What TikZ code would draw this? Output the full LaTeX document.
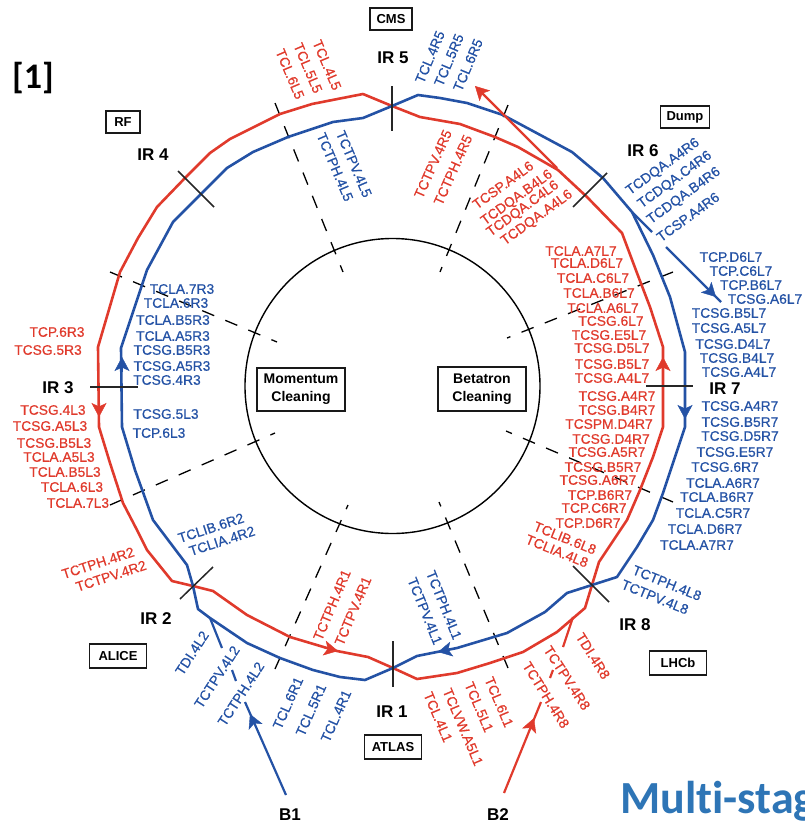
\documentclass[tikz,border=0pt]{standalone}
\usepackage{fontspec}
\setmainfont{Liberation Sans}
\newfontfamily\carlito[RawFeature=-liga]{Carlito}
\usetikzlibrary{arrows.meta}
\definecolor{lhcred}{RGB}{224,58,44}
\definecolor{lhcblue}{RGB}{36,82,165}
\definecolor{slideblue}{RGB}{46,117,182}
\newfontfamily\labelfont[FakeBold=0.6]{Liberation Sans}
\tikzset{
  redlab/.style={text=lhcred,font=\labelfont\fontsize{13.8}{13.8}\selectfont,inner sep=0pt},
  bluelab/.style={text=lhcblue,font=\labelfont\fontsize{13.8}{13.8}\selectfont,inner sep=0pt},
  irlab/.style={font=\bfseries\fontsize{17}{17}\selectfont,inner sep=0pt},
  expbox/.style={draw=black!90,line width=1.4pt,font=\bfseries\fontsize{13}{13}\selectfont,minimum height=22pt,inner sep=0pt,align=center},
  redbeam/.style={draw=lhcred,line width=2.6pt,line join=round},
  bluebeam/.style={draw=lhcblue,line width=2.6pt,line join=round},
  irtick/.style={draw=black!85,line width=1.5pt},
  spoke/.style={draw=black,line width=1.3pt,dash pattern=on 13pt off 12pt},
  redhead/.style={draw=lhcred,line width=0.4pt,-{Stealth[length=14pt,width=15pt,inset=3.5pt,fill=lhcred]}},
  bluehead/.style={draw=lhcblue,line width=0.4pt,-{Stealth[length=14pt,width=15pt,inset=3.5pt,fill=lhcblue]}},
}
\begin{document}
\begin{tikzpicture}[x=1pt,y=-1pt]
\useasboundingbox (0,0) rectangle (804,825);
% inner circle
\node[draw=black,line width=1.4pt,circle,minimum size=295pt,inner sep=0pt] (core) at (392.5,386) {};
% spokes
\coordinate (s1a) at (275,103); \coordinate (s1b) at (343,272);
\coordinate (s2a) at (508,105); \coordinate (s2b) at (440,272);
\coordinate (s3a) at (673,272); \coordinate (s3b) at (507,338);
\coordinate (s4a) at (673,502); \coordinate (s4b) at (506,431);
\coordinate (s5a) at (508,668); \coordinate (s5b) at (439,502);
\coordinate (s6a) at (275,669); \coordinate (s6b) at (348,505);
\coordinate (s7a) at (110,505); \coordinate (s7b) at (275,433);
\coordinate (s8a) at (110,272); \coordinate (s8b) at (277,342);
\foreach \n in {1,...,8} \draw[spoke] (s\n a) -- (s\n b);
% beams
\draw[redbeam] (392,106) -- (363,94) -- (312,104) -- (280,114) -- (230,139) -- (210,153) -- (185,178) -- (157,207) -- (138,238) -- (120,272) -- (98,347) -- (99,427) -- (110,463) -- (123,503) -- (137,530) -- (147,550) -- (172,581) -- (193,586) -- (213,591) -- (247,615) -- (290,637) -- (337,651) -- (368,657) -- (393,668) -- (417,679) -- (457,673) -- (490,663) -- (523,652) -- (557,632) -- (585,608) -- (592,585) -- (599,562) -- (627,520) -- (640,490) -- (653,457) -- (663,427) -- (663,347) -- (650,307) -- (637,273) -- (622,233) -- (587,197) -- (558,170) -- (518,147) -- (495,137) -- (460,124) -- (420,117) -- cycle;
\draw[bluebeam] (392,106) -- (418,95) -- (440,98) -- (467,103) -- (503,115) -- (572,152) -- (603,178) -- (632,212) -- (653,255) -- (670,297) -- (685,352) -- (685,427) -- (663,493) -- (653,520) -- (637,547) -- (617,577) -- (592,585) -- (567,593) -- (545,612) -- (507,633) -- (457,648) -- (417,656) -- (393,668) -- (365,680) -- (340,677) -- (313,670) -- (280,658) -- (247,643) -- (210,618) -- (198,609) -- (193,586) -- (187,565) -- (153,520) -- (135,470) -- (122,427) -- (121,348) -- (147,270) -- (173,222) -- (202,193) -- (227,168) -- (253,152) -- (288,137) -- (333,122) -- (363,118) -- cycle;
% injection and dump lines
\coordinate (b1s) at (286,795); \coordinate (b1e) at (245,702);
\coordinate (b2s) at (504,793); \coordinate (b2e) at (541,702);
\draw[bluebeam,line width=2.2pt] (b1s) -- (b1e);
\draw[bluebeam,line width=2.2pt] (232,670) -- (236,681);
\draw[bluebeam,line width=2.2pt] (210,618) -- (222,648);
\draw[redbeam,line width=2.2pt] (b2s) -- (b2e);
\draw[redbeam,line width=2.2pt] (550,678) -- (553,670);
\draw[redbeam,line width=2.2pt] (563,647) -- (573,617);
\draw[redbeam,line width=2.2pt] (557,168) -- (480,91);
\draw[bluebeam,line width=2.2pt] (632,212) -- (652,232);
\draw[bluebeam,line width=2.2pt] (666,247) -- (721,302);
% arrowheads
\draw[redhead] (487,98) -- (475,86);
\draw[bluehead] (704,285) -- (716,297);
\draw[redhead] (663,372) -- (663,357);
\draw[bluehead] (685,404) -- (685,419);
\draw[bluehead] (122,372) -- (122,357);
\draw[redhead] (99,402) -- (99,417);
\draw[redhead] (324,648) -- (338,651);
\draw[bluehead] (452,649) -- (438,652);
\draw[bluehead] (257,730) -- (250,714);
\draw[redhead] (528,734) -- (534,718);
% IR ticks
\draw[irtick] (392,86) -- (392,131);
\draw[irtick] (178,171) -- (214,207);
\draw[irtick] (607,173) -- (573,207);
\draw[irtick] (646,386) -- (693,386);
\draw[irtick] (90,387) -- (138,387);
\draw[irtick] (180,599) -- (213,567);
\draw[irtick] (393,641) -- (393,687);
\draw[irtick] (573,566) -- (609,602);
% IR labels
\foreach \x/\y/\t [count=\n] in {393/58/IR 5,153/155/IR 4,643/151/IR 6,725/389/IR 7,58/388/IR 3,156/619/IR 2,392/712/IR 1,635/625/IR 8,290/815/B1,498/815/B2}
  \node[irlab] (ir\n) at (\x,\y) {\t};
% experiment boxes
\node[expbox,minimum width=42pt] (cms) at (391,19) {CMS};
\node[expbox,minimum width=34pt] (rf) at (123,122) {RF};
\node[expbox,minimum width=49pt] (dump) at (685,117) {Dump};
\node[expbox,minimum width=57pt,minimum height=24pt] (lhcb) at (678,663) {LHCb};
\node[expbox,minimum width=57pt,minimum height=24pt] (alice) at (118,656) {ALICE};
\node[expbox,minimum width=57pt,minimum height=24pt] (atlas) at (393,747) {ATLAS};
\node[expbox,minimum width=88pt,minimum height=43pt,font=\bfseries\fontsize{14}{18}\selectfont] (mom) at (301,389.5) {Momentum\\Cleaning};
\node[expbox,minimum width=88pt,minimum height=44pt,font=\bfseries\fontsize{14}{18}\selectfont] (bet) at (482,389) {Betatron\\Cleaning};
% straight red labels
\foreach \x/\y/\t [count=\n] in {581/251/TCLA.A7L7,587/263/TCLA.D6L7,593/278/TCLA.C6L7,599/293/TCLA.B6L7,603/308/TCLA.A6L7,611/321/TCSG.6L7,609/335/TCSG.E5L7,612/348/TCSG.D5L7,612/364/TCSG.B5L7,612/378/TCSG.A4L7,617/396/TCSG.A4R7,617/410/TCSG.B4R7,609/424/TCSPM.D4R7,611/439/TCSG.D4R7,607/452/TCSG.A5R7,603/467/TCSG.B5R7,598/480/TCSG.A6R7,600/495/TCP.B6R7,594/508/TCP.C6R7,588/523/TCP.D6R7,57/332/TCP.6R3,48/350/TCSG.5R3,53/410/TCSG.4L3,50/426/TCSG.A5L3,54/443/TCSG.B5L3,59/457/TCLA.A5L3,65/472/TCLA.B5L3,72/487/TCLA.6L3,78/503/TCLA.7L3}
  \node[redlab] (rs\n) at (\x,\y) {\t};
% straight blue labels
\foreach \x/\y/\t [count=\n] in {731/257/TCP.D6L7,741/271/TCP.C6L7,751/285/TCP.B6L7,765/299/TCSG.A6L7,729/313/TCSG.B5L7,729/328/TCSG.A5L7,733/344/TCSG.D4L7,737/358/TCSG.B4L7,739/372/TCSG.A4L7,740/406/TCSG.A4R7,740/422/TCSG.B5R7,740/436/TCSG.D5R7,735/452/TCSG.E5R7,725/467/TCSG.6R7,723/483/TCLA.A6R7,717/497/TCLA.B6R7,713/513/TCLA.C5R7,705/529/TCLA.D6R7,697/545/TCLA.A7R7,182/289/TCLA.7R3,176/303/TCLA.6R3,173/320/TCLA.B5R3,173/336/TCLA.A5R3,172/350/TCSG.B5R3,172/366/TCSG.A5R3,167/380/TCSG.4R3,166/414/TCSG.5L3,159/433/TCP.6L3}
  \node[bluelab] (bs\n) at (\x,\y) {\t};
% rotated red labels
\foreach \x/\y/\r/\t [count=\n] in {327/65/-67/TCL.4L5,308/68/-67/TCL.5L5,290/74/-67/TCL.6L5,433/164/66/TCTPV.4R5,453/170/66/TCTPH.4R5,503/185/36/TCSP.A4L6,517/198/36/TCDQA.B4L6,523/209/36/TCDQA.C4L6,537/218/36/TCDQA.A4L6,565/538/-22/TCLIB.6L8,557/551/-22/TCLIA.4L8,593/656/-58/TDI.4R8,567/678/-57/TCTPV.4R8,546/695/-58/TCTPH.4R8,499/702/-67/TCL.6L1,479/707/-67/TCL.5L1,463/727/-67/TCLVW.A5L1,438/717/-67/TCL.4L1,332/605/67/TCTPH.4R1,353/611/67/TCTPV.4R1,98/563/18/TCTPH.4R2,111/576/18/TCTPV.4R2}
  \node[redlab,rotate=\r] (rr\n) at (\x,\y) {\t};
% rotated blue labels
\foreach \x/\y/\r/\t [count=\n] in {430/57/67/TCL.4R5,449/60/67/TCL.5R5,468/65/67/TCL.6R5,354/164/-67/TCTPV.4L5,335/167/-67/TCTPH.4L5,663/167/36/TCDQA.A4R6,675/180/36/TCDQA.C4R6,684/196/36/TCDQA.B4R6,688/217/36/TCSP.A4R6,667/583/-22/TCTPH.4L8,655/597/-22/TCTPV.4L8,444/605/-68/TCTPH.4L1,425/611/-68/TCTPV.4L1,288/703/66/TCL.6R1,311/710/66/TCL.5R1,336/716/66/TCL.4R1,241/694/57/TCTPH.4L2,217/677/57/TCTPV.4L2,192/653/57/TDI.4L2,211/528/18/TCLIB.6R2,222/541/18/TCLIA.4R2}
  \node[bluelab,rotate=\r] (br\n) at (\x,\y) {\t};
% slide texts
\node[inner sep=0pt,font=\carlito\bfseries\fontsize{36}{36}\selectfont] (ref) at (33,78) {[1]};
\node[inner sep=0pt,anchor=base west,text=slideblue,font=\carlito\bfseries\fontsize{46}{46}\selectfont] (multi) at (620,813) {Multi-stag};
\end{tikzpicture}
\end{document}
